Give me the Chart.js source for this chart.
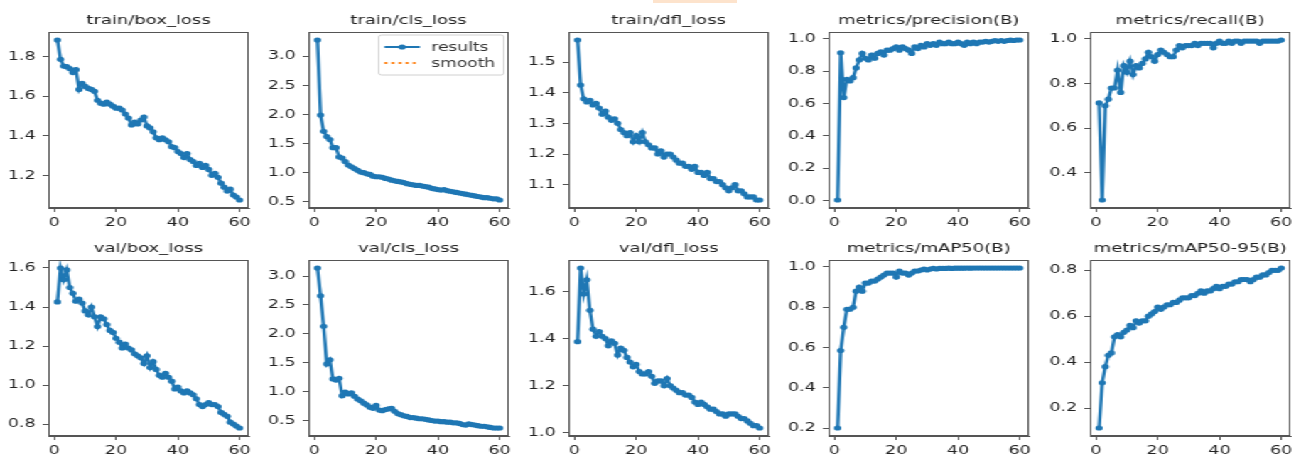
<!DOCTYPE html>
<html>
<head>
<meta charset="utf-8">
<script src="https://cdn.jsdelivr.net/npm/chart.js@4.4.1/dist/chart.umd.min.js"></script>
<style>
  html, body { margin: 0; padding: 0; background: #fff; }
  body { width: 1296px; height: 456px; overflow: hidden; position: relative; }
  #fig { position: absolute; left: 0; top: 0; width: 912px; height: 456px; transform: scaleX(1.4211); transform-origin: 0 0; }
  #fig canvas { position: absolute; }
  .tag { position: absolute; left: 653px; top: 0; width: 84px; height: 3px; background: #fde3cc; }
</style>
</head>
<body>
<div class="tag"></div>
<div id="fig"></div>
<script>
// epochs
const epochs = [1,2,3,4,5,6,7,8,9,10,11,12,13,14,15,16,17,18,19,20,21,22,23,24,25,26,27,28,29,30,
                31,32,33,34,35,36,37,38,39,40,41,42,43,44,45,46,47,48,49,50,51,52,53,54,55,56,57,58,59,60];
const xTicks = [0, 20, 40, 60];

const titles = ['train/box_loss', 'train/cls_loss', 'train/dfl_loss', 'metrics/precision(B)', 'metrics/recall(B)',
                'val/box_loss', 'val/cls_loss', 'val/dfl_loss', 'metrics/mAP50(B)', 'metrics/mAP50-95(B)'];

const trainBox = [1.885,1.787,1.753,1.75,1.74,1.72,1.735,1.635,1.665,1.65,1.64,1.635,1.625,1.58,1.565,1.56,1.57,1.56,1.55,1.54,
                  1.54,1.53,1.51,1.49,1.455,1.47,1.46,1.48,1.495,1.45,1.44,1.42,1.39,1.38,1.39,1.38,1.37,1.345,1.34,1.32,
                  1.31,1.29,1.31,1.28,1.27,1.25,1.26,1.24,1.25,1.23,1.2,1.21,1.19,1.16,1.14,1.12,1.13,1.1,1.09,1.075];
const trainCls = [3.28,1.99,1.71,1.62,1.57,1.43,1.43,1.27,1.25,1.19,1.13,1.1,1.07,1.04,1.01,1.0,0.98,0.97,0.94,0.93,
                  0.93,0.92,0.9,0.89,0.87,0.86,0.85,0.84,0.83,0.81,0.8,0.79,0.78,0.78,0.77,0.76,0.75,0.73,0.72,0.71,
                  0.7,0.71,0.69,0.68,0.67,0.66,0.65,0.64,0.63,0.62,0.61,0.6,0.59,0.58,0.57,0.57,0.56,0.55,0.55,0.53];
const trainDfl = [1.572,1.425,1.38,1.37,1.375,1.36,1.365,1.35,1.33,1.34,1.32,1.31,1.315,1.3,1.28,1.27,1.26,1.27,1.24,1.26,
                  1.24,1.27,1.24,1.23,1.22,1.22,1.2,1.21,1.19,1.2,1.2,1.19,1.18,1.17,1.17,1.16,1.16,1.15,1.16,1.14,
                  1.14,1.13,1.14,1.12,1.12,1.11,1.11,1.1,1.09,1.08,1.09,1.1,1.08,1.08,1.07,1.06,1.06,1.06,1.05,1.05];
const precision = [0.003,0.914,0.637,0.75,0.74,0.76,0.82,0.87,0.91,0.88,0.87,0.9,0.88,0.91,0.92,0.9,0.93,0.93,0.94,0.95,
                   0.93,0.95,0.94,0.93,0.91,0.95,0.94,0.96,0.95,0.97,0.96,0.97,0.96,0.98,0.97,0.97,0.98,0.97,0.97,0.98,
                   0.97,0.96,0.98,0.97,0.98,0.97,0.98,0.98,0.985,0.98,0.985,0.99,0.985,0.99,0.985,0.99,0.992,0.99,0.993,0.993];
const recall = [0.713,0.278,0.7,0.73,0.78,0.78,0.86,0.76,0.88,0.85,0.9,0.84,0.88,0.87,0.89,0.91,0.94,0.92,0.9,0.93,
                0.95,0.94,0.93,0.92,0.92,0.95,0.97,0.96,0.97,0.97,0.97,0.98,0.97,0.98,0.98,0.98,0.98,0.96,0.98,0.99,
                0.98,0.98,0.99,0.98,0.99,0.99,0.98,0.99,0.99,0.99,0.99,0.99,0.98,0.99,0.99,0.99,0.99,0.99,0.99,0.995];
const valBox = [1.426,1.6,1.54,1.59,1.5,1.47,1.43,1.44,1.42,1.38,1.36,1.4,1.35,1.3,1.35,1.34,1.31,1.28,1.27,1.24,
                1.22,1.19,1.21,1.19,1.18,1.16,1.15,1.14,1.11,1.15,1.09,1.12,1.08,1.05,1.04,1.06,1.04,1.02,0.98,0.99,
                0.97,0.96,0.97,0.96,0.95,0.93,0.9,0.89,0.9,0.91,0.9,0.9,0.89,0.86,0.85,0.84,0.81,0.8,0.79,0.78];
const valCls = [3.14,2.66,2.13,1.48,1.55,1.22,1.2,1.23,0.93,0.99,0.96,0.98,0.92,0.87,0.84,0.8,0.77,0.73,0.71,0.76,
                0.68,0.67,0.69,0.7,0.71,0.66,0.62,0.6,0.58,0.57,0.55,0.55,0.54,0.53,0.53,0.52,0.51,0.5,0.49,0.49,
                0.48,0.48,0.47,0.47,0.46,0.46,0.45,0.43,0.42,0.44,0.43,0.42,0.41,0.4,0.4,0.39,0.38,0.37,0.37,0.37];
const valDfl = [1.387,1.7,1.59,1.65,1.52,1.44,1.41,1.43,1.41,1.4,1.37,1.39,1.38,1.33,1.36,1.35,1.32,1.3,1.28,1.29,
                1.26,1.25,1.25,1.26,1.24,1.21,1.22,1.22,1.2,1.23,1.2,1.19,1.18,1.17,1.17,1.16,1.16,1.15,1.13,1.12,
                1.13,1.12,1.11,1.1,1.1,1.09,1.08,1.08,1.07,1.08,1.08,1.08,1.07,1.06,1.06,1.05,1.04,1.03,1.03,1.02];
const map50 = [0.2,0.585,0.7,0.79,0.79,0.8,0.88,0.9,0.88,0.92,0.92,0.93,0.93,0.94,0.95,0.96,0.97,0.97,0.97,0.95,
               0.98,0.97,0.97,0.96,0.97,0.98,0.98,0.985,0.99,0.985,0.99,0.993,0.99,0.993,0.993,0.993,0.994,0.993,0.994,0.994,
               0.994,0.994,0.995,0.994,0.995,0.995,0.995,0.995,0.995,0.995,0.995,0.995,0.995,0.995,0.995,0.995,0.995,0.995,0.995,0.995];
const map5095 = [0.113,0.31,0.38,0.43,0.44,0.51,0.52,0.51,0.53,0.54,0.56,0.55,0.58,0.57,0.58,0.58,0.6,0.61,0.62,0.64,
                 0.63,0.64,0.65,0.65,0.66,0.66,0.67,0.68,0.68,0.68,0.69,0.69,0.7,0.71,0.7,0.71,0.71,0.72,0.73,0.72,
                 0.73,0.73,0.74,0.74,0.75,0.75,0.76,0.76,0.76,0.75,0.76,0.77,0.77,0.78,0.78,0.79,0.8,0.8,0.8,0.81];

// y tick labels per panel
const yTicks = [
  [1.2, 1.4, 1.6, 1.8],
  [0.5, 1.0, 1.5, 2.0, 2.5, 3.0],
  [1.1, 1.2, 1.3, 1.4, 1.5],
  [0.0, 0.2, 0.4, 0.6, 0.8, 1.0],
  [0.4, 0.6, 0.8, 1.0],
  [0.8, 1.0, 1.2, 1.4, 1.6],
  [0.5, 1.0, 1.5, 2.0, 2.5, 3.0],
  [1.0, 1.2, 1.4, 1.6],
  [0.2, 0.4, 0.6, 0.8, 1.0],
  [0.2, 0.4, 0.6, 0.8]
];
const series = [trainBox, trainCls, trainDfl, precision, recall, valBox, valCls, valDfl, map50, map5095];

// layout (figure drawn at 912 wide, then stretched to 1296 like the original png)
const FONT = 'DejaVu Sans';
const plotLefts = [49, 309, 569, 829, 1090].map(v => v / 1.4211);
const AXIS_W = 34, PLOT_W = 141, RIGHT_PAD = 6, TOP_PAD = 32, PANEL_H = 228;

// matplotlib style 5% margins
function padRange(vals) {
  const lo = Math.min(...vals), hi = Math.max(...vals);
  const m = (hi - lo) * 0.05;
  return [lo - m, hi + m];
}

const framePlugin = {
  id: 'frame',
  afterDatasetsDraw(chart) {
    const a = chart.chartArea, ctx = chart.ctx;
    ctx.save();
    ctx.strokeStyle = '#555';
    ctx.lineWidth = 1;
    ctx.strokeRect(Math.round(a.left) + 0.5, Math.round(a.top) + 0.5, Math.round(a.right - a.left) - 1, Math.round(a.bottom - a.top) - 1);
    // title centred over the axes
    ctx.fillStyle = '#222';
    ctx.font = '12.7px "' + FONT + '"';
    ctx.textAlign = 'center';
    ctx.textBaseline = 'alphabetic';
    ctx.fillText(chart.options.plugins.frame.title, (a.left + a.right) / 2, a.top - 8);
    ctx.restore();
  }
};

// legend box in upper right of the axes
const boxLegend = {
  id: 'boxLegend',
  afterDraw(chart) {
    const a = chart.chartArea, ctx = chart.ctx;
    const w = 88, h = 40;
    const x0 = a.right - 3.5 - w, y0 = a.top + 3;
    ctx.save();
    ctx.fillStyle = 'rgba(255,255,255,0.8)';
    ctx.strokeStyle = '#d0d0d0';
    ctx.lineWidth = 1;
    ctx.beginPath();
    ctx.roundRect(x0, y0, w, h, 2);
    ctx.fill();
    ctx.stroke();
    ctx.font = '12px "' + FONT + '"';
    ctx.textBaseline = 'middle';
    chart.data.datasets.forEach((ds, i) => {
      const y = y0 + 12 + i * 16;
      ctx.strokeStyle = ds.borderColor;
      ctx.lineWidth = 2;
      ctx.setLineDash(ds.borderDash || []);
      ctx.beginPath();
      ctx.moveTo(x0 + 4, y);
      ctx.lineTo(x0 + 29, y);
      ctx.stroke();
      ctx.setLineDash([]);
      if (ds.pointRadius) {
        ctx.fillStyle = ds.borderColor;
        ctx.beginPath();
        ctx.arc(x0 + 16.5, y, ds.pointRadius, 0, Math.PI * 2);
        ctx.fill();
      }
      ctx.fillStyle = '#333';
      ctx.fillText(ds.label, x0 + 37, y + 0.5);
    });
    ctx.restore();
  }
};

const fig = document.getElementById('fig');
const [xMin, xMax] = padRange(epochs);

series.forEach((vals, i) => {
  const col = i % 5, row = Math.floor(i / 5);
  const canvas = document.createElement('canvas');
  canvas.width = AXIS_W + PLOT_W + RIGHT_PAD;
  canvas.height = PANEL_H;
  canvas.style.left = Math.round(plotLefts[col] - AXIS_W) + 'px';
  canvas.style.top = (row * PANEL_H) + 'px';
  fig.appendChild(canvas);

  const [yMin, yMax] = padRange(vals);
  const ticks = yTicks[i];
  const tickFont = { family: FONT, size: 12.3 };

  new Chart(canvas.getContext('2d'), {
    type: 'line',
    data: {
      datasets: [
        {
          label: 'results',
          data: epochs.map((e, k) => ({ x: e, y: vals[k] })),
          borderColor: '#1f77b4',
          backgroundColor: '#1f77b4',
          borderWidth: 2.4,
          pointRadius: 2.6,
          pointBorderWidth: 0,
          pointBackgroundColor: '#1f77b4',
          tension: 0
        },
        {
          label: 'smooth',
          data: [],
          borderColor: '#ff7f0e',
          borderDash: [2, 3],
          borderWidth: 2,
          pointRadius: 0
        }
      ]
    },
    options: {
      responsive: false,
      animation: false,
      layout: { padding: { left: 0, right: RIGHT_PAD, top: TOP_PAD, bottom: 0 } },
      scales: {
        x: {
          type: 'linear',
          min: xMin,
          max: xMax,
          afterBuildTicks: axis => { axis.ticks = xTicks.map(v => ({ value: v })); },
          afterFit: axis => { axis.height = 20; },
          ticks: { font: tickFont, color: '#222', padding: 3, maxRotation: 0, autoSkip: false, callback: v => String(v) },
          grid: { drawOnChartArea: false, drawTicks: true, tickLength: 4, color: '#555' },
          border: { color: '#555', width: 1 }
        },
        y: {
          type: 'linear',
          min: yMin,
          max: yMax,
          afterBuildTicks: axis => { axis.ticks = ticks.map(v => ({ value: v })); },
          afterFit: axis => { axis.width = AXIS_W; },
          ticks: { font: tickFont, color: '#222', padding: 5, autoSkip: false, callback: v => v.toFixed(1) },
          grid: { drawOnChartArea: false, drawTicks: true, tickLength: 4, color: '#555' },
          border: { color: '#555', width: 1 }
        }
      },
      plugins: {
        legend: { display: false },
        tooltip: { enabled: false },
        title: { display: false },
        frame: { title: titles[i] }
      }
    },
    plugins: i === 1 ? [framePlugin, boxLegend] : [framePlugin]
  });
});
</script>
</body>
</html>
